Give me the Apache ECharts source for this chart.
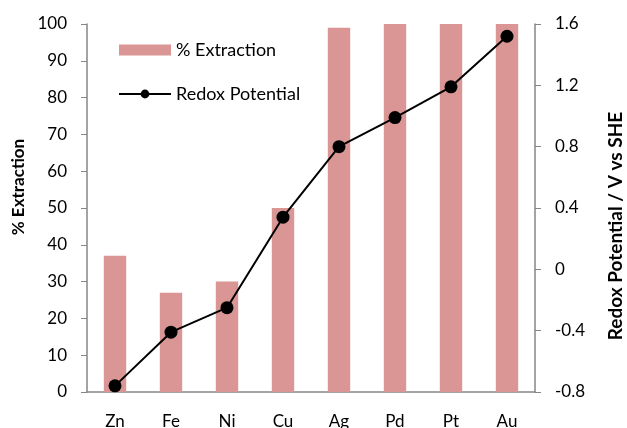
<!DOCTYPE html>
<html>
<head>
<meta charset="utf-8">
<script src="https://cdn.jsdelivr.net/npm/echarts@6/dist/echarts.min.js"></script>
<style>
html, body { margin: 0; padding: 0; background: #fff; }
#chart { width: 627px; height: 428px; }
</style>
</head>
<body>
<div id="chart"></div>
<script>
// metals, left to right
var metals = ['Zn', 'Fe', 'Ni', 'Cu', 'Ag', 'Pd', 'Pt', 'Au'];
// % extraction (bars, left axis)
var extraction = [37, 27, 30, 50, 99, 100, 100, 100];
// redox potential V vs SHE (line, right axis)
var redox = [-0.76, -0.41, -0.25, 0.34, 0.80, 0.99, 1.19, 1.52];

var font = 'Lato, "Open Sans", sans-serif';
var axisGrey = '#868686';

var chart = echarts.init(document.getElementById('chart'));
var option = {
    animation: false,
    textStyle: { fontFamily: font, color: '#000' },
    grid: { left: 87, right: 92, top: 24, bottom: 36, outerBoundsMode: 'none' },
    legend: {
        orient: 'vertical',
        left: 113,
        top: 36,
        itemWidth: 52,
        itemHeight: 11,
        itemGap: 26,
        textStyle: { fontFamily: font, fontSize: 18, color: '#000' },
        data: [
            { name: '% Extraction', icon: 'rect' },
            { name: 'Redox Potential' }
        ]
    },
    xAxis: {
        type: 'category',
        data: metals,
        axisLine: { lineStyle: { color: axisGrey, width: 1.5 } },
        axisTick: { lineStyle: { color: axisGrey }, length: 6 },
        axisLabel: { fontFamily: font, fontSize: 17, color: '#000', margin: 21 }
    },
    yAxis: [
        {
            type: 'value',
            min: 0,
            max: 100,
            interval: 10,
            name: '% Extraction',
            nameLocation: 'middle',
            nameGap: 58,
            nameTextStyle: {
                fontFamily: font, fontSize: 17, fontWeight: 'bold', color: '#000',
                padding: [0, 0, 0, 42]
            },
            axisLine: { show: true, lineStyle: { color: axisGrey, width: 1.5 } },
            axisTick: { show: true, length: 6, lineStyle: { color: axisGrey } },
            splitLine: { show: false },
            axisLabel: { fontFamily: font, fontSize: 17, color: '#000', margin: 20 }
        },
        {
            type: 'value',
            min: -0.8,
            max: 1.6,
            interval: 0.4,
            position: 'right',
            name: 'Redox Potential / V vs SHE',
            nameLocation: 'middle',
            nameGap: 71,
            nameRotate: 90,
            nameTextStyle: {
                fontFamily: font, fontSize: 19, fontWeight: 'bold', color: '#000',
                padding: [0, 36, 0, 0]
            },
            axisLine: { show: true, lineStyle: { color: axisGrey, width: 1.5 } },
            axisTick: { show: true, length: 6, lineStyle: { color: axisGrey } },
            splitLine: { show: false },
            axisLabel: { fontFamily: font, fontSize: 17, color: '#000', margin: 20 }
        }
    ],
    series: [
        {
            name: '% Extraction',
            type: 'bar',
            data: extraction,
            barWidth: '40%',
            itemStyle: { color: '#D99694' }
        },
        {
            name: 'Redox Potential',
            type: 'line',
            yAxisIndex: 1,
            data: redox,
            symbol: 'circle',
            symbolSize: 13,
            itemStyle: { color: '#000' },
            lineStyle: { color: '#000', width: 2 }
        }
    ]
};
chart.setOption(option);
</script>
</body>
</html>
